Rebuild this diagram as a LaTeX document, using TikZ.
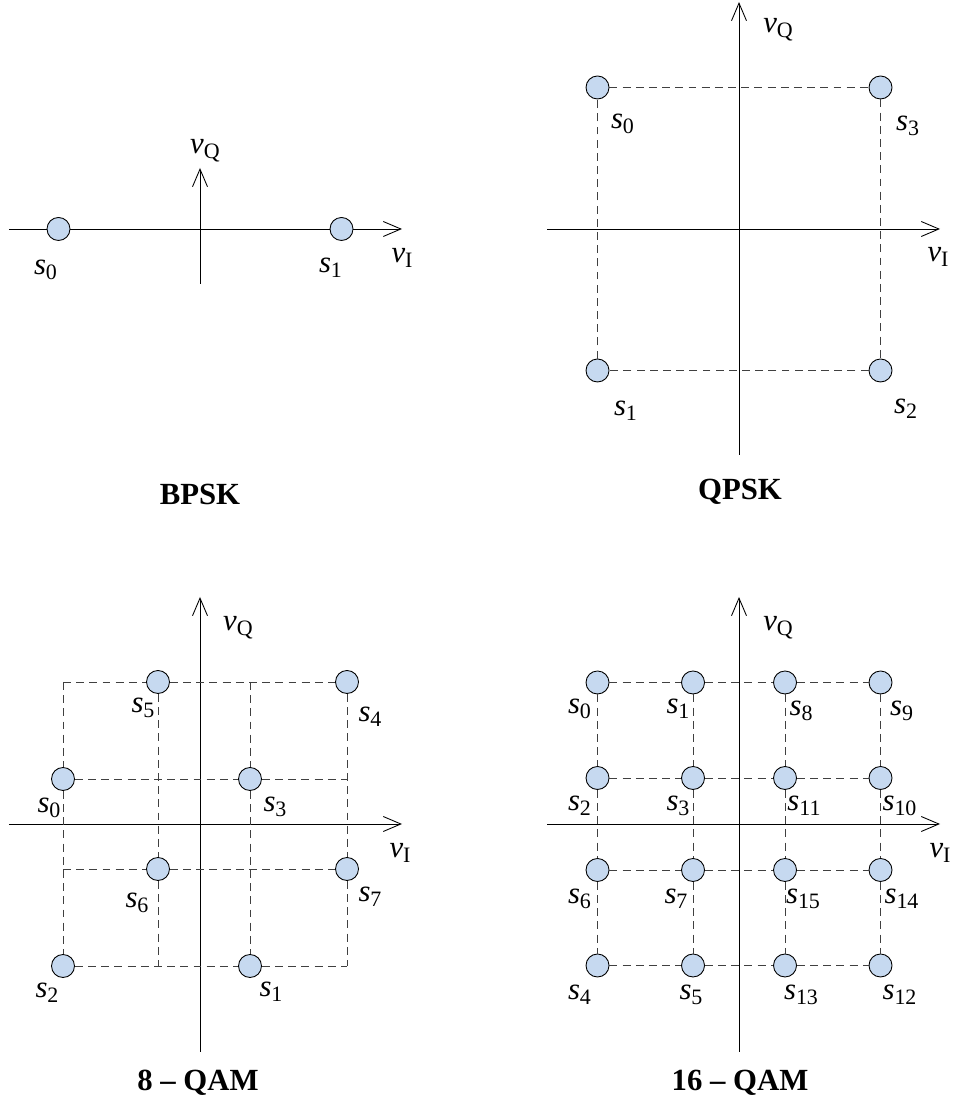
\documentclass[tikz,border=0pt]{standalone}
\usepackage{fontspec}
\setmainfont{Liberation Serif}
\usetikzlibrary{arrows.meta}

\definecolor{ptfill}{RGB}{198,217,240}
\newcommand{\lab}[2]{\textit{#1}\raisebox{-2.8pt}{\fontsize{12.5}{13}\selectfont #2}}

\begin{document}
\begin{tikzpicture}[
  >={Straight Barb[length=10pt,width=8.5pt]},
  axis/.style={->, line width=0.5pt},
  guide/.style={black!75, line width=0.5pt, dash pattern=on 4.5pt off 3pt},
  pt/.style={circle, draw, fill=ptfill, minimum size=0.46cm, inner sep=0pt, line width=0.5pt},
  lbl/.style={font=\fontsize{17.5}{20}\selectfont, inner sep=0pt},
  heading/.style={font=\bfseries\fontsize{17.5}{20}\selectfont}
]

% Parameters
\def\a{0.92}   % inner level
\def\b{2.83}   % outer level

\useasboundingbox (0,0) rectangle (19.04,22.22);

% ---------------- BPSK ----------------
\begin{scope}[shift={(4.0,17.64)}]
\coordinate (bw) at (-3.82,0);
\coordinate (be) at (4.04,0);
\coordinate (bs) at (0,-1.1);
\coordinate (bn) at (0,1.22);

% Axes
\draw[axis] (bw) -- (be);
\draw[axis] (bs) -- (bn);
\node[lbl] (bvi) at (4.04,-0.58) {\lab{v}{I}};
\node[lbl] (bvq) at (0.1,1.56) {\lab{v}{Q}};

% Points
\node[pt] (bs0) at (-\b,0) {};
\node[pt] (bs1) at (\b,0) {};
\node[lbl] (bt0) at ([shift={(-0.26,-0.82)}]bs0) {\lab{s}{0}};
\node[lbl] (bt1) at ([shift={(-0.22,-0.78)}]bs1) {\lab{s}{1}};

\node[heading] (btitle) at (0,-5.3) {BPSK};
\end{scope}

% ---------------- QPSK ----------------
\begin{scope}[shift={(14.78,17.64)}]
\coordinate (qw) at (-3.84,0);
\coordinate (qe) at (4.02,0);
\coordinate (qs) at (0,-4.52);
\coordinate (qn) at (0,4.54);

% Axes
\draw[axis] (qw) -- (qe);
\draw[axis] (qs) -- (qn);
\node[lbl] (qvi) at (3.98,-0.56) {\lab{v}{I}};
\node[lbl] (qvq) at (0.78,3.98) {\lab{v}{Q}};

% Points
\node[pt] (qs0) at (-\b,\b) {};
\node[pt] (qs1) at (-\b,-\b) {};
\node[pt] (qs2) at (\b,-\b) {};
\node[pt] (qs3) at (\b,\b) {};

% Guides
\draw[guide] (qs0) -- (qs3) -- (qs2) -- (qs1) -- (qs0);

\node[lbl] (qt0) at ([shift={(0.5,-0.72)}]qs0) {\lab{s}{0}};
\node[lbl] (qt1) at ([shift={(0.56,-0.8)}]qs1) {\lab{s}{1}};
\node[lbl] (qt2) at ([shift={(0.5,-0.76)}]qs2) {\lab{s}{2}};
\node[lbl] (qt3) at ([shift={(0.54,-0.76)}]qs3) {\lab{s}{3}};

\node[heading] (qtitle) at (0.02,-5.26) {QPSK};
\end{scope}

% ---------------- 8-QAM ----------------
\begin{scope}[shift={(4.0,5.74)}]
\coordinate (ew) at (-3.82,0);
\coordinate (ee) at (4.04,0);
\coordinate (es) at (0,-4.56);
\coordinate (en) at (0,4.54);

% Axes
\draw[axis] (ew) -- (ee);
\draw[axis] (es) -- (en);
\node[lbl] (evi) at (4.0,-0.58) {\lab{v}{I}};
\node[lbl] (evq) at (0.76,3.92) {\lab{v}{Q}};

% Grid corners without a point
\coordinate (e11) at (-2.74,2.84);
\coordinate (e13) at (1.0,2.84);
\coordinate (e24) at (2.94,0.9);
\coordinate (e31) at (-2.74,-0.9);
\coordinate (e42) at (-0.84,-2.84);
\coordinate (e44) at (2.94,-2.84);

% Points
\node[pt] (es0) at (-2.74,0.9) {};
\node[pt] (es1) at (1.0,-2.84) {};
\node[pt] (es2) at (-2.74,-2.84) {};
\node[pt] (es3) at (1.0,0.9) {};
\node[pt] (es4) at (2.94,2.84) {};
\node[pt] (es5) at (-0.84,2.84) {};
\node[pt] (es6) at (-0.84,-0.9) {};
\node[pt] (es7) at (2.94,-0.9) {};

% Guides
\draw[guide] (e11) -- (es5) -- (es4);
\draw[guide] (es0) -- (es3) -- (e24);
\draw[guide] (e31) -- (es6) -- (es7);
\draw[guide] (es2) -- (es1) -- (e44);
\draw[guide] (e11) -- (es0) -- (es2);
\draw[guide] (es5) -- (es6) -- (e42);
\draw[guide] (e13) -- (es3) -- (es1);
\draw[guide] (es4) -- (es7) -- (e44);

\node[lbl] (et0) at ([shift={(-0.28,-0.58)}]es0) {\lab{s}{0}};
\node[lbl] (et1) at ([shift={(0.42,-0.52)}]es1) {\lab{s}{1}};
\node[lbl] (et2) at ([shift={(-0.32,-0.54)}]es2) {\lab{s}{2}};
\node[lbl] (et3) at ([shift={(0.5,-0.56)}]es3) {\lab{s}{3}};
\node[lbl] (et4) at ([shift={(0.46,-0.7)}]es4) {\lab{s}{4}};
\node[lbl] (et5) at ([shift={(-0.3,-0.52)}]es5) {\lab{s}{5}};
\node[lbl] (et6) at ([shift={(-0.42,-0.68)}]es6) {\lab{s}{6}};
\node[lbl] (et7) at ([shift={(0.46,-0.56)}]es7) {\lab{s}{7}};

\node[heading] (etitle) at (-0.04,-5.18) {8 -- QAM};
\end{scope}

% ---------------- 16-QAM ----------------
\begin{scope}[shift={(14.78,5.74)}]
\coordinate (hw) at (-3.84,0);
\coordinate (he) at (4.02,0);
\coordinate (hs) at (0,-4.56);
\coordinate (hn) at (0,4.54);

% Axes
\draw[axis] (hw) -- (he);
\draw[axis] (hs) -- (hn);
\node[lbl] (hvi) at (4.02,-0.58) {\lab{v}{I}};
\node[lbl] (hvq) at (0.78,3.92) {\lab{v}{Q}};

% Points, row by row
\node[pt] (hs0) at (-\b,\b) {};
\node[pt] (hs1) at (-\a,\b) {};
\node[pt] (hs8) at (\a,\b) {};
\node[pt] (hs9) at (\b,\b) {};
\node[pt] (hs2) at (-\b,\a) {};
\node[pt] (hs3) at (-\a,\a) {};
\node[pt] (hs11) at (\a,\a) {};
\node[pt] (hs10) at (\b,\a) {};
\node[pt] (hs6) at (-\b,-\a) {};
\node[pt] (hs7) at (-\a,-\a) {};
\node[pt] (hs15) at (\a,-\a) {};
\node[pt] (hs14) at (\b,-\a) {};
\node[pt] (hs4) at (-\b,-\b) {};
\node[pt] (hs5) at (-\a,-\b) {};
\node[pt] (hs13) at (\a,-\b) {};
\node[pt] (hs12) at (\b,-\b) {};

% Guides
\draw[guide] (hs0) -- (hs1) -- (hs8) -- (hs9);
\draw[guide] (hs2) -- (hs3) -- (hs11) -- (hs10);
\draw[guide] (hs6) -- (hs7) -- (hs15) -- (hs14);
\draw[guide] (hs4) -- (hs5) -- (hs13) -- (hs12);
\draw[guide] (hs0) -- (hs2) -- (hs6) -- (hs4);
\draw[guide] (hs1) -- (hs3) -- (hs7) -- (hs5);
\draw[guide] (hs8) -- (hs11) -- (hs15) -- (hs13);
\draw[guide] (hs9) -- (hs10) -- (hs14) -- (hs12);

\node[lbl] (ht0) at ([shift={(-0.36,-0.52)}]hs0) {\lab{s}{0}};
\node[lbl] (ht1) at ([shift={(-0.3,-0.52)}]hs1) {\lab{s}{1}};
\node[lbl] (ht8) at ([shift={(0.32,-0.56)}]hs8) {\lab{s}{8}};
\node[lbl] (ht9) at ([shift={(0.42,-0.56)}]hs9) {\lab{s}{9}};
\node[lbl] (ht2) at ([shift={(-0.36,-0.56)}]hs2) {\lab{s}{2}};
\node[lbl] (ht3) at ([shift={(-0.3,-0.56)}]hs3) {\lab{s}{3}};
\node[lbl] (ht11) at ([shift={(0.38,-0.56)}]hs11) {\lab{s}{11}};
\node[lbl] (ht10) at ([shift={(0.38,-0.56)}]hs10) {\lab{s}{10}};
\node[lbl] (ht6) at ([shift={(-0.36,-0.58)}]hs6) {\lab{s}{6}};
\node[lbl] (ht7) at ([shift={(-0.34,-0.58)}]hs7) {\lab{s}{7}};
\node[lbl] (ht15) at ([shift={(0.36,-0.58)}]hs15) {\lab{s}{15}};
\node[lbl] (ht14) at ([shift={(0.42,-0.58)}]hs14) {\lab{s}{14}};
\node[lbl] (ht4) at ([shift={(-0.36,-0.58)}]hs4) {\lab{s}{4}};
\node[lbl] (ht5) at ([shift={(-0.04,-0.58)}]hs5) {\lab{s}{5}};
\node[lbl] (ht13) at ([shift={(0.32,-0.58)}]hs13) {\lab{s}{13}};
\node[lbl] (ht12) at ([shift={(0.38,-0.58)}]hs12) {\lab{s}{12}};

\node[heading] (htitle) at (0.02,-5.18) {16 -- QAM};
\end{scope}

\end{tikzpicture}
\end{document}
